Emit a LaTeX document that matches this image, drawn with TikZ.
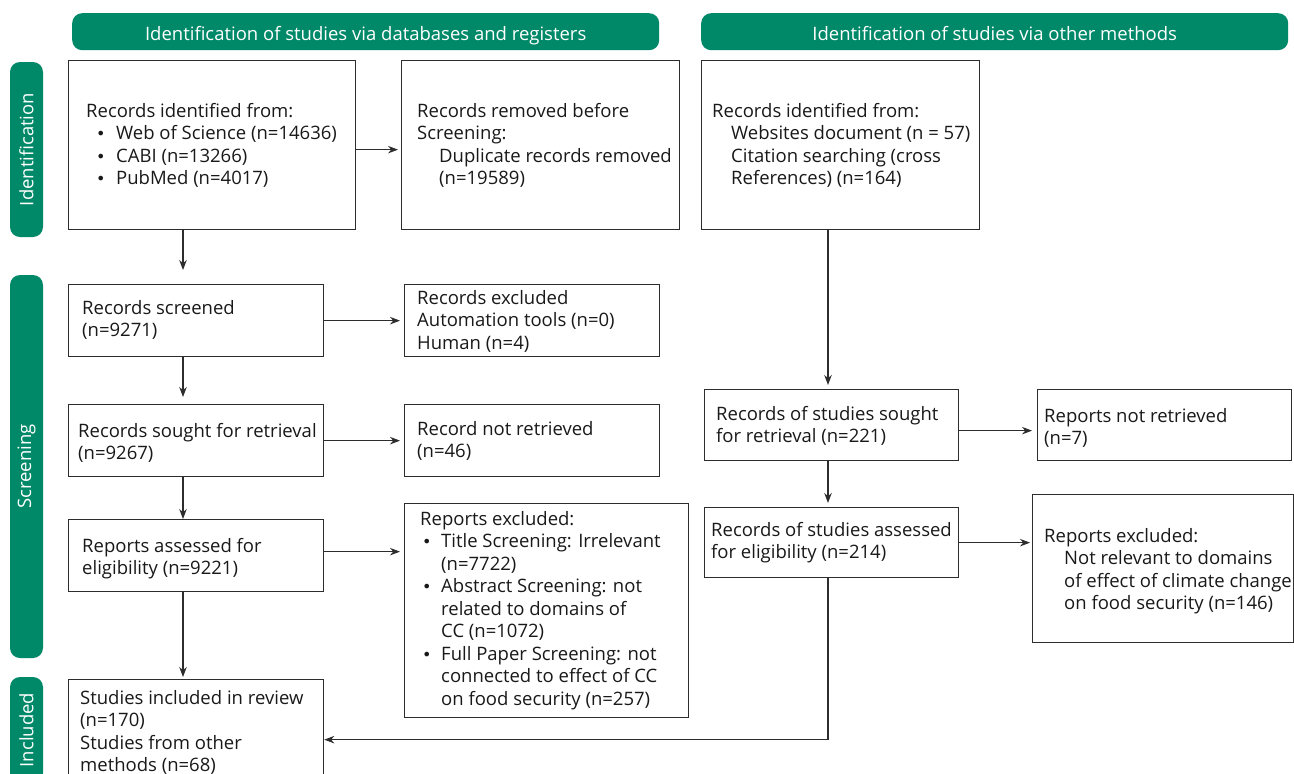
\documentclass[tikz,border=0pt]{standalone}
\usepackage{fontspec}
\setmainfont{Open Sans}
\newfontfamily\dvfont{DejaVu Sans}
\usetikzlibrary{arrows.meta,calc}
\definecolor{prgreen}{RGB}{0,137,104}
\definecolor{edgec}{RGB}{45,45,45}
\definecolor{txtc}{RGB}{25,25,25}
\newcommand{\bul}{{\dvfont\fontsize{16}{22.5}\selectfont •}}
\newcommand{\bA}{\hspace*{10pt}\makebox[20pt][l]{\bul}}
\newcommand{\bC}{\hspace*{2pt}\makebox[19pt][l]{\bul}}
\newcommand{\ind}[1]{\hspace*{#1pt}}
\begin{document}
\begin{tikzpicture}[x=1pt,y=-1pt,
  font=\fontsize{18.5}{22.5}\selectfont,
  box/.style={draw=edgec, line width=1.3pt, anchor=north west, inner sep=0pt},
  txt/.style={anchor=north west, inner sep=0pt, align=left, text=txtc},
  hdr/.style={fill=prgreen, rounded corners=10pt, anchor=north west, inner sep=0pt, text=white, text height=18pt, text depth=0pt},
  side/.style={fill=prgreen, rounded corners=10pt, rotate=90, inner sep=0pt, text=white, minimum height=33pt},
  arr/.style={-{Stealth[length=10pt,width=7.5pt]}, line width=1.1pt, draw=edgec}]
\useasboundingbox (0,0) rectangle (1294,774);
\fill[white] (0,0) rectangle (1294,774);

% headers
\node[hdr, minimum width=587pt, minimum height=37pt] (h1) at (72,13) {Identification of studies via databases and registers};
\node[hdr, minimum width=587pt, minimum height=37pt] (h2) at (701,13) {Identification of studies via other methods};

% side bars
\node[side, minimum width=175pt] (s1) at (26.5,149.5) {Identification};
\node[side, minimum width=383pt] (s2) at (26.5,466.5) {Screening};
\node[side, minimum width=106pt] (s3) at (26.5,730) {Included};

% boxes
\node[box, minimum width=287pt, minimum height=169pt] (a1) at (68,60) {};
\node[box, minimum width=278pt, minimum height=169pt] (a2) at (401,60) {};
\node[box, minimum width=278pt, minimum height=169pt] (a3) at (701,60) {};
\node[box, minimum width=255pt, minimum height=72pt] (b1) at (68,284) {};
\node[box, minimum width=255pt, minimum height=72pt] (c1) at (404,284) {};
\node[box, minimum width=255pt, minimum height=72pt] (b2) at (68,404) {};
\node[box, minimum width=255pt, minimum height=72pt] (c2) at (404,404) {};
\node[box, minimum width=255pt, minimum height=72pt] (b3) at (68,519) {};
\node[box, minimum width=284pt, minimum height=214pt] (c3) at (404,503) {};
\node[box, minimum width=255pt, minimum height=120pt] (d) at (68,679) {};
\node[box, minimum width=254pt, minimum height=71pt] (r1) at (704,389) {};
\node[box, minimum width=254pt, minimum height=71pt] (r2) at (1037,389) {};
\node[box, minimum width=254pt, minimum height=70pt] (r3) at (704,507) {};
\node[box, minimum width=261pt, minimum height=148pt] (r4) at (1032,494) {};

% texts
\node[txt] (a1t) at (86,103) {Records identified from:\\\bA Web of Science (n=14636)\\\bA CABI (n=13266)\\\bA PubMed (n=4017)};
\node[txt] (a2t) at (417,103) {Records removed before\\Screening:\\\ind{22}Duplicate records removed\\\ind{22}(n=19589)};
\node[txt] (a3t) at (712,103) {Records identified from:\\\ind{19}Websites document (n = 57)\\\ind{19}Citation searching (cross\\\ind{19}References) (n=164)};
\node[txt] (b1t) at (82,300) {Records screened\\(n=9271)};
\node[txt] (c1t) at (417,290) {Records excluded\\Automation tools (n=0)\\Human (n=4)};
\node[txt] (b2t) at (78,423) {Records sought for retrieval\\(n=9267)};
\node[txt] (c2t) at (417,421) {Record not retrieved\\(n=46)};
\node[txt] (b3t) at (82,538) {Reports assessed for\\eligibility (n=9221)};
\node[txt] (c3t) at (420,511) {Reports excluded:\\\bC Title Screening: Irrelevant\\\ind{21}(n=7722)\\\bC Abstract Screening: not\\\ind{21}related to domains of\\\ind{21}CC (n=1072)\\\bC Full Paper Screening: not\\\ind{21}connected to effect of CC\\\ind{21}on food security (n=257)};
\node[txt] (dt) at (80,690) {Studies included in review\\(n=170)\\Studies from other\\methods (n=68)};
\node[txt] (r1t) at (716,406) {Records of studies sought\\for retrieval (n=221)};
\node[txt] (r2t) at (1044,408) {Reports not retrieved\\(n=7)};
\node[txt] (r3t) at (711,522) {Records of studies assessed\\for eligibility (n=214)};
\node[txt] (r4t) at (1044,528) {Reports excluded:\\\ind{20}Not relevant to domains\\\ind{20}of effect of climate change\\\ind{20}on food security (n=146)};

% connectors
\coordinate (cl) at (183,0);
\coordinate (cr) at (828,0);
\draw[arr, shorten >=3pt] ([yshift=-4.5pt]a1.east) -- ([yshift=-4.5pt]a1.east -| a2.west);
\draw[arr, shorten >=14pt] (a1.south -| cl) -- (b1.north -| cl);
\draw[arr, shorten >=7pt] (b1.south -| cl) -- (b2.north -| cl);
\draw[arr] (b2.south -| cl) -- (b3.north -| cl);
\draw[arr, shorten >=2pt] (b3.south -| cl) -- (d.north -| cl);
\draw[arr, shorten >=4pt] (b1.east) -- (b1.east -| c1.west);
\draw[arr, shorten >=4pt] (b2.east) -- (b2.east -| c2.west);
\draw[arr, shorten >=4pt] ([yshift=4pt]b3.east) -- ([yshift=4pt]b3.east -| c3.west);
\draw[arr, shorten >=4pt] (a3.south -| cr) -- (r1.north -| cr);
\draw[arr, shorten >=4pt] (r1.south -| cr) -- (r3.north -| cr);
\draw[arr, shorten >=5pt] ([yshift=-5.5pt]r1.east) -- ([yshift=-5.5pt]r1.east -| r2.west);
\draw[arr, shorten >=2pt] (r3.east) -- (r3.east -| r4.west);
\draw[arr] (r3.south -| cr) |- (d.east);
\end{tikzpicture}
\end{document}
